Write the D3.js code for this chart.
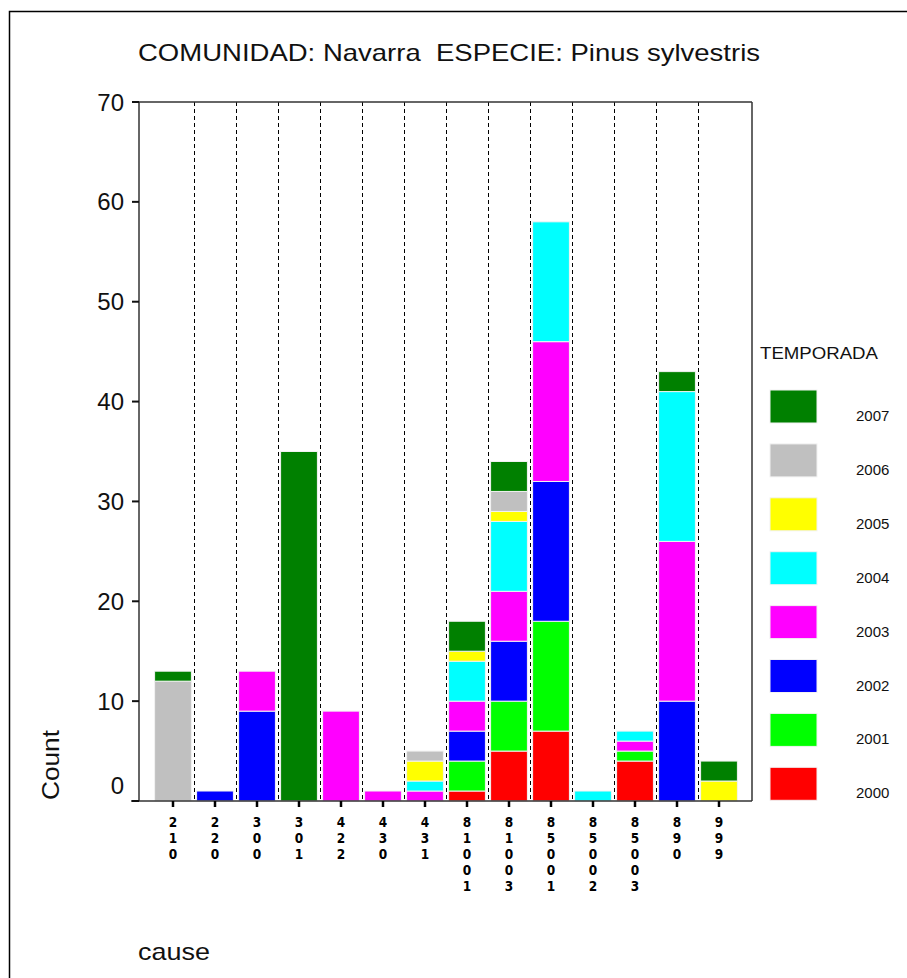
<!DOCTYPE html>
<html>
<head>
<meta charset="utf-8">
<script src="https://cdn.jsdelivr.net/npm/d3@7"></script>
<style>
  body { margin: 0; background: #fff; }
  text { font-family: "Liberation Sans", Arial, sans-serif; }
</style>
</head>
<body>
<svg id="chart" width="907" height="978"></svg>
<script>
const causes = ['210', '220', '300', '301', '422', '430', '431', '81001', '81003', '85001', '85002', '85003', '890', '999']
const seasons = ['2000', '2001', '2002', '2003', '2004', '2005', '2006', '2007']
const seasonColors = ['#ff0000', '#00ff00', '#0000ff', '#ff00ff', '#00ffff', '#ffff00', '#c0c0c0', '#008000']
const yTicks = [0, 10, 20, 30, 40, 50, 60, 70]

// counts per season, one value per cause (same order as causes)
const c2000 = [0, 0, 0, 0, 0, 0, 0, 1, 5, 7, 0, 4, 0, 0]
const c2001 = [0, 0, 0, 0, 0, 0, 0, 3, 5, 11, 0, 1, 0, 0]
const c2002 = [0, 1, 9, 0, 0, 0, 0, 3, 6, 14, 0, 0, 10, 0]
const c2003 = [0, 0, 4, 0, 9, 1, 1, 3, 5, 14, 0, 1, 16, 0]
const c2004 = [0, 0, 0, 0, 0, 0, 1, 4, 7, 12, 1, 1, 15, 0]
const c2005 = [0, 0, 0, 0, 0, 0, 2, 1, 1, 0, 0, 0, 0, 2]
const c2006 = [12, 0, 0, 0, 0, 0, 1, 0, 2, 0, 0, 0, 0, 0]
const c2007 = [1, 0, 0, 35, 0, 0, 0, 3, 3, 0, 0, 0, 2, 2]

const seriesValues = [c2000, c2001, c2002, c2003, c2004, c2005, c2006, c2007]

const rows = causes.map((cause, i) => {
  const row = { cause }
  seasons.forEach((s, j) => { row[s] = seriesValues[j][i] })
  return row
})

const svg = d3.select('#chart')
const plot = { left: 139, right: 752, top: 102, bottom: 801 }

const x = d3.scaleBand().domain(causes).range([152, 740]).paddingInner(0.1).paddingOuter(0.05)
const y = d3.scaleLinear().domain([0, 70]).range([plot.bottom, plot.top])
const color = d3.scaleOrdinal().domain(seasons).range(seasonColors)

// outer frame
svg.append('rect')
  .attr('x', 9.5).attr('y', 11.5).attr('width', 1000).attr('height', 1000)
  .attr('fill', 'none').attr('stroke', '#000').attr('stroke-width', 1.5)

// title
svg.append('text')
  .attr('x', 138).attr('y', 61)
  .attr('font-size', 24)
  .attr('fill', '#111')
  .attr('textLength', 622)
  .attr('lengthAdjust', 'spacingAndGlyphs')
  .style('white-space', 'pre')
  .text('COMUNIDAD: Navarra  ESPECIE: Pinus sylvestris')

// dashed separators between causes
const step = x.step()
const x0 = x.range()[0]
svg.append('g').selectAll('line')
  .data(causes.slice(1))
  .join('line')
  .attr('x1', (d, i) => x0 + step * (i + 1) + 0.5)
  .attr('x2', (d, i) => x0 + step * (i + 1) + 0.5)
  .attr('y1', plot.top).attr('y2', plot.bottom)
  .attr('stroke', '#000').attr('stroke-width', 1)
  .attr('stroke-dasharray', '4,3')

// stacked bars
const stacked = d3.stack().keys(seasons)(rows)
svg.append('g').selectAll('g')
  .data(stacked)
  .join('g')
  .attr('fill', (d) => color(d.key))
  .selectAll('rect')
  .data((d) => d.filter((p) => p[1] - p[0] > 0))
  .join('rect')
  .attr('x', (d) => x(d.data.cause) + 0.5)
  .attr('width', x.bandwidth() - 1)
  .attr('y', (d) => y(d[1]))
  .attr('height', (d) => y(d[0]) - y(d[1]))
  .attr('stroke', '#f2f2f2').attr('stroke-width', 1)

// plot box
const box = svg.append('g').attr('stroke', '#333').attr('stroke-width', 1.5).attr('fill', 'none')
box.append('line').attr('x1', plot.left).attr('x2', plot.left).attr('y1', plot.top).attr('y2', plot.bottom)
box.append('line').attr('x1', plot.left).attr('x2', plot.right).attr('y1', plot.top).attr('y2', plot.top)
box.append('line').attr('x1', plot.right).attr('x2', plot.right).attr('y1', plot.top).attr('y2', plot.bottom)
box.append('line').attr('x1', 131).attr('x2', plot.right).attr('y1', plot.bottom).attr('y2', plot.bottom)

// y axis ticks and labels
const yAxis = svg.append('g')
yAxis.selectAll('line')
  .data(yTicks)
  .join('line')
  .attr('x1', 132).attr('x2', plot.left)
  .attr('y1', (d) => y(d)).attr('y2', (d) => y(d))
  .attr('stroke', '#111').attr('stroke-width', 2)
yAxis.selectAll('text')
  .data(yTicks)
  .join('text')
  .attr('x', 124)
  .attr('y', (d) => y(d) + (d === 0 ? -7.5 : 8.5))
  .attr('text-anchor', 'end')
  .attr('font-size', 24)
  .attr('fill', '#111')
  .text((d) => d)

// x ticks and vertical digit labels (one text per digit)
const xAxis = svg.append('g')
xAxis.selectAll('line')
  .data(causes)
  .join('line')
  .attr('x1', (d) => x(d) + x.bandwidth() / 2)
  .attr('x2', (d) => x(d) + x.bandwidth() / 2)
  .attr('y1', plot.bottom).attr('y2', plot.bottom + 6)
  .attr('stroke', '#000').attr('stroke-width', 2.5)
const digits = causes.flatMap((c) => c.split('').map((ch, i) => ({ cause: c, ch, i })))
xAxis.selectAll('text')
  .data(digits)
  .join('text')
  .attr('x', (d) => x(d.cause) + x.bandwidth() / 2)
  .attr('y', (d) => 827 + d.i * 16)
  .attr('text-anchor', 'middle')
  .attr('font-size', 13.5)
  .attr('font-weight', 'bold')
  .style('font-family', '"Liberation Sans Narrow", "DejaVu Sans Condensed", sans-serif')
  .attr('fill', '#000')
  .text((d) => d.ch)

// axis titles
svg.append('text')
  .attr('transform', 'translate(59,765) rotate(-90)')
  .attr('text-anchor', 'middle')
  .attr('font-size', 24)
  .attr('fill', '#111')
  .attr('textLength', 70)
  .attr('lengthAdjust', 'spacingAndGlyphs')
  .text('Count')
svg.append('text')
  .attr('x', 138).attr('y', 960)
  .attr('font-size', 24)
  .attr('fill', '#111')
  .attr('textLength', 72)
  .attr('lengthAdjust', 'spacingAndGlyphs')
  .text('cause')

// legend
svg.append('text')
  .attr('x', 760).attr('y', 359)
  .attr('font-size', 17)
  .attr('fill', '#111')
  .attr('textLength', 118)
  .attr('lengthAdjust', 'spacingAndGlyphs')
  .text('TEMPORADA')
const legendOrder = seasons.slice().reverse()
const legend = svg.append('g').selectAll('g')
  .data(legendOrder)
  .join('g')
  .attr('transform', (d, i) => `translate(770,${390 + i * 53.9})`)
legend.append('rect')
  .attr('width', 47).attr('height', 33)
  .attr('fill', (d) => color(d))
  .attr('stroke', '#f2f2f2').attr('stroke-width', 1)
legend.append('text')
  .attr('x', 86).attr('y', 31)
  .attr('font-size', 15)
  .attr('fill', '#111')
  .text((d) => d)
</script>
</body>
</html>
